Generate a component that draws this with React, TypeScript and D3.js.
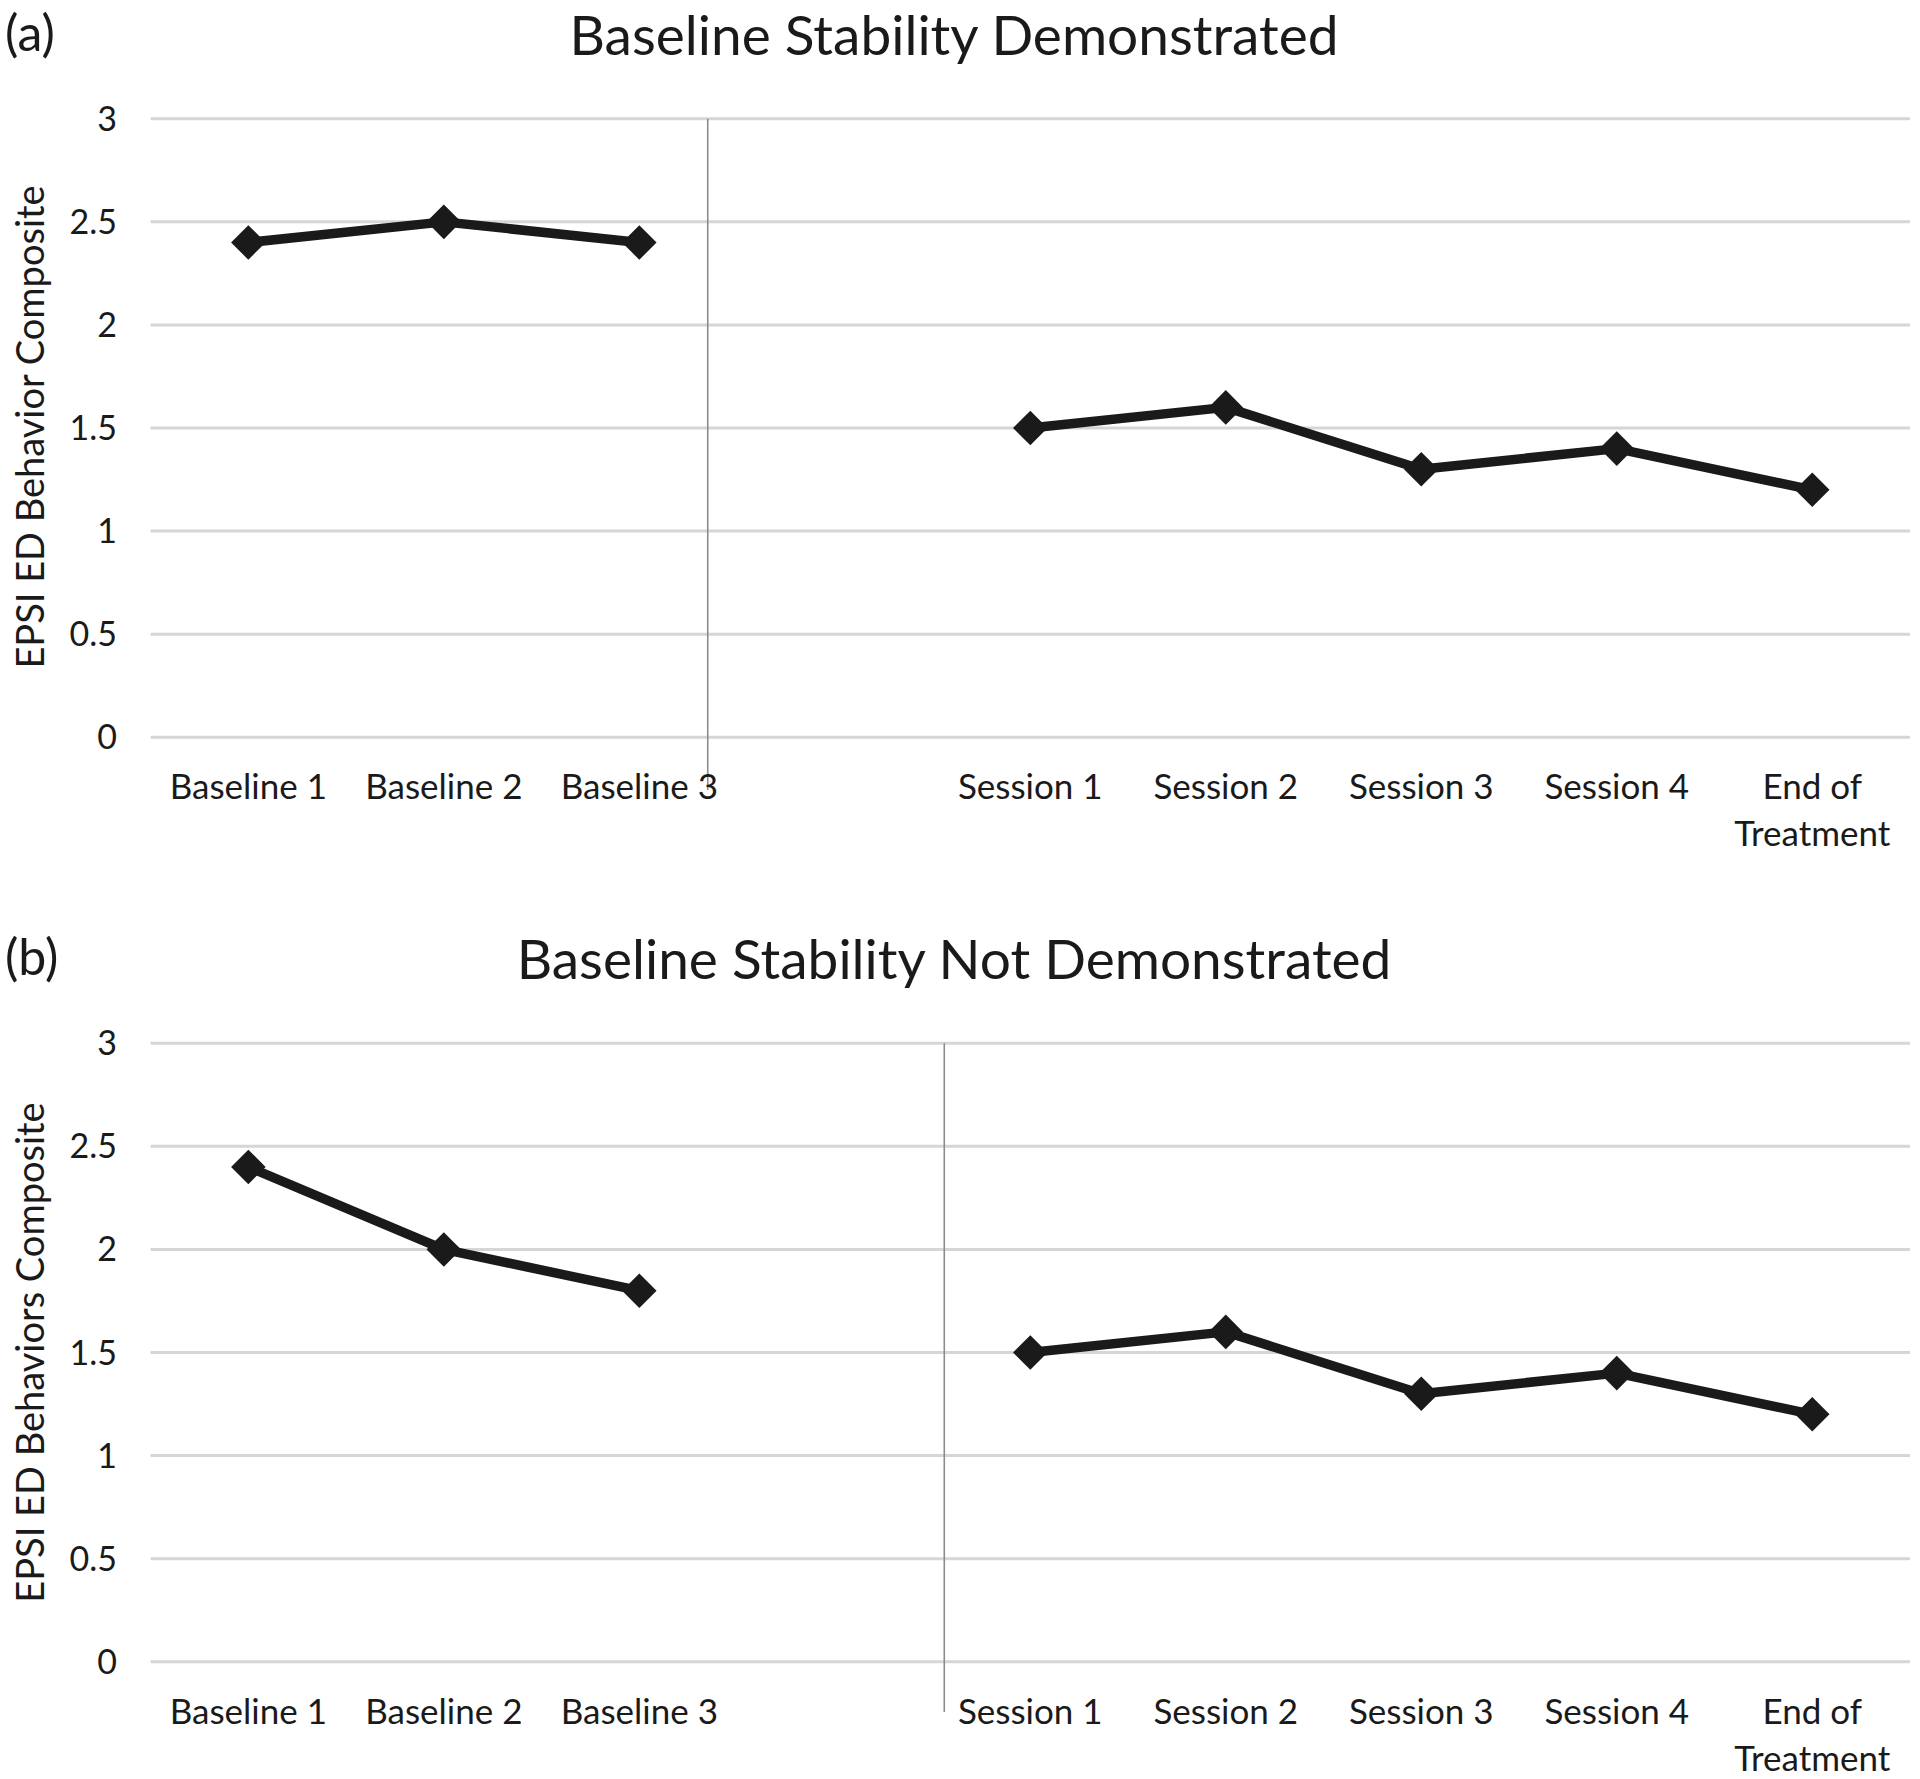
import React from "react";
import * as d3 from "d3";

const categories = ["Baseline 1", "Baseline 2", "Baseline 3", "", "Session 1", "Session 2", "Session 3", "Session 4", "End of Treatment"];
const baselineA = [2.4, 2.5, 2.4];
const sessionA = [1.5, 1.6, 1.3, 1.4, 1.2];
const baselineB = [2.4, 2.0, 1.8];
const sessionB = [1.5, 1.6, 1.3, 1.4, 1.2];
const yTicks = [0, 0.5, 1, 1.5, 2, 2.5, 3];
const phaseA = 2.35; // in category-index units
const phaseB = 3.56;

const FONT = "Lato, 'Open Sans', sans-serif";
const W = 1920;
const H = 1779;

type PanelProps = {
  top: number;
  bottom: number;
  letter: string;
  title: string;
  yTitle: string;
  baseline: number[];
  session: number[];
  phase: number;
  phaseEnd: number;
  yTitleShift: number;
};

function Panel({ top, bottom, letter, title, yTitle, baseline, session, phase, phaseEnd, yTitleShift }: PanelProps) {
  const left = 150.6;
  const right = 1910;
  const x = d3.scaleBand<string>().domain(categories.map((c, i) => String(i))).range([left, right]).padding(0);
  const xc = (i: number) => (x(String(i)) as number) + x.bandwidth() / 2;
  const xi = d3.scaleLinear().domain([0, 1]).range([xc(0), xc(1)]);
  const y = d3.scaleLinear().domain([0, 3]).range([bottom, top]);
  const line = d3.line<[number, number]>().x((d) => xc(d[0])).y((d) => y(d[1]));
  const bPts: [number, number][] = baseline.map((v, i) => [i, v]);
  const sPts: [number, number][] = session.map((v, i) => [i + 4, v]);
  const diamond = d3.symbol().type(d3.symbolDiamond2).size(760)();
  const yMid = (top + bottom) / 2;
  return (
    <g>
      <text x={5} y={top - 68} fontFamily={FONT} fontSize={50} fill="#1a1a1a">{letter}</text>
      <text x={954} y={top - 64} fontFamily={FONT} fontSize={55} textAnchor="middle" fill="#1a1a1a">{title}</text>
      {yTicks.map((t) => (
        <g key={t}>
          <line x1={left} x2={right} y1={y(t)} y2={y(t)} stroke="#d6d6d6" strokeWidth={3} />
          <text x={117} y={y(t) + 12} fontFamily={FONT} fontSize={34} textAnchor="end" fill="#1a1a1a">{String(t)}</text>
        </g>
      ))}
      <text
        transform={`translate(44,${yMid + yTitleShift}) rotate(-90)`}
        fontFamily={FONT}
        fontSize={38}
        textAnchor="middle"
        fill="#1a1a1a"
      >
        {yTitle}
      </text>
      <line x1={xi(phase)} x2={xi(phase)} y1={top} y2={phaseEnd} stroke="#8c8c8c" strokeWidth={1.6} />
      {categories.map((c, i) => {
        if (!c) return null;
        const parts = c === "End of Treatment" ? ["End of", "Treatment"] : [c];
        return (
          <text key={i} x={xc(i)} y={bottom + 62} fontFamily={FONT} fontSize={35} textAnchor="middle" fill="#1a1a1a">
            {parts.map((p, k) => (
              <tspan key={k} x={xc(i)} dy={k === 0 ? 0 : 47}>{p}</tspan>
            ))}
          </text>
        );
      })}
      <path d={line(bPts) as string} fill="none" stroke="#1a1a1a" strokeWidth={9.5} strokeLinejoin="round" />
      <path d={line(sPts) as string} fill="none" stroke="#1a1a1a" strokeWidth={9.5} strokeLinejoin="round" />
      {[...bPts, ...sPts].map((d, i) => (
        <path key={i} d={diamond as string} transform={`translate(${xc(d[0])},${y(d[1])})`} fill="#1a1a1a" />
      ))}
    </g>
  );
}

export default function App() {
  return (
    <svg width={W} height={H} style={{ position: "absolute", left: 0, top: 0, background: "#fff" }}>
      <rect width={W} height={H} fill="#fff" />
      <Panel
        top={118.8}
        bottom={737.2}
        letter="(a)"
        title="Baseline Stability Demonstrated"
        yTitle="EPSI ED Behavior Composite"
        baseline={baselineA}
        session={sessionA}
        phase={phaseA}
        phaseEnd={790}
        yTitleShift={-1}
      />
      <Panel
        top={1043.3}
        bottom={1661.7}
        letter="(b)"
        title="Baseline Stability Not Demonstrated"
        yTitle="EPSI ED Behaviors Composite"
        baseline={baselineB}
        session={sessionB}
        phase={phaseB}
        phaseEnd={1712}
        yTitleShift={0}
      />
    </svg>
  );
}
